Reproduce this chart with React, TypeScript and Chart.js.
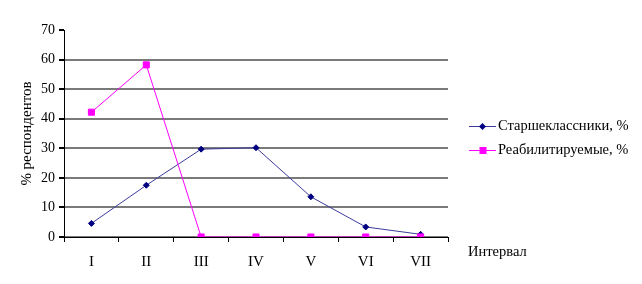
import React, { useEffect, useRef } from 'react';
import { Chart, registerables } from 'chart.js';
Chart.register(...registerables);

const categories = ['I', 'II', 'III', 'IV', 'V', 'VI', 'VII'];
const seniors = [4.6, 17.5, 29.7, 30.2, 13.6, 3.4, 0.9];
const rehab = [42.2, 58.2, 0, 0, 0, 0, 0];
const seriesLabels = ['Старшеклассники, %', 'Реабилитируемые, %'];
const yTitle = '% респондентов';
const xTitle = 'Интервал';
const yMin = 0;
const yMax = 70;
const yStep = 10;

const FONT = "'Liberation Serif', 'Times New Roman', serif";

const legendPlugin = {
  id: 'customLegend',
  afterDraw(chart: any) {
    const { ctx, chartArea } = chart;
    const x0 = chartArea.right + 21;
    const rowY = [chartArea.top + 96, chartArea.top + 120];
    ctx.save();
    chart.data.datasets.forEach((ds: any, i: number) => {
      const y = rowY[i];
      ctx.strokeStyle = ds.borderColor;
      ctx.lineWidth = 1;
      ctx.beginPath();
      ctx.moveTo(x0, y + 0.5);
      ctx.lineTo(x0 + 27, y + 0.5);
      ctx.stroke();
      ctx.fillStyle = ds.pointBackgroundColor;
      const mx = x0 + 13.5;
      if (ds.pointStyle === 'rectRot') {
        ctx.beginPath();
        ctx.moveTo(mx, y - 3);
        ctx.lineTo(mx + 3.5, y + 0.5);
        ctx.lineTo(mx, y + 4);
        ctx.lineTo(mx - 3.5, y + 0.5);
        ctx.closePath();
        ctx.fill();
      } else {
        ctx.fillRect(mx - 3, y - 3, 7, 7);
      }
      ctx.fillStyle = '#000';
      ctx.font = `14.5px ${FONT}`;
      ctx.textBaseline = 'middle';
      ctx.textAlign = 'left';
      ctx.fillText(ds.label, x0 + 29, y);
    });
    ctx.font = `14.5px ${FONT}`;
    ctx.textBaseline = 'middle';
    ctx.fillText(xTitle, chartArea.right + 20, chartArea.bottom + 15);
    ctx.restore();
  },
};

export default function App() {
  const ref = useRef<HTMLCanvasElement | null>(null);
  useEffect(() => {
    if (!ref.current) return;
    const chart = new Chart(ref.current, {
      type: 'line',
      data: {
        labels: categories,
        datasets: [
          {
            label: seriesLabels[0],
            data: seniors,
            borderColor: '#3c3c9a',
            borderWidth: 1,
            pointStyle: 'rectRot',
            pointRadius: 3,
            pointBorderWidth: 1,
            pointBackgroundColor: '#000080',
            pointBorderColor: '#000080',
            tension: 0,
            order: 1,
          } as any,
          {
            label: seriesLabels[1],
            data: rehab,
            borderColor: '#FF00FF',
            borderWidth: 1,
            pointStyle: 'rect',
            pointRadius: 4.3,
            pointBorderWidth: 1,
            pointBackgroundColor: '#FF00FF',
            pointBorderColor: '#FF00FF',
            tension: 0,
            order: 0,
          } as any,
        ],
      },
      options: {
        animation: false,
        responsive: false,
        devicePixelRatio: 1,
        layout: { padding: { left: 0, top: 30, right: 194, bottom: 0 } },
        plugins: { legend: { display: false }, tooltip: { enabled: false } },
        scales: {
          x: {
            type: 'category',
            offset: true,
            afterFit: (s: any) => { s.height = 47; },
            grid: {
              offset: true,
              drawOnChartArea: false,
              drawTicks: true,
              tickLength: 5,
              tickColor: '#000',
            },
            border: { color: '#000', width: 1 },
            ticks: { color: '#000', font: { family: FONT, size: 15 }, padding: 11 },
          },
          y: {
            min: yMin,
            max: yMax,
            afterFit: (s: any) => { s.width = 64; },
            ticks: { stepSize: yStep, color: '#000', font: { family: FONT, size: 14 }, padding: 4 },
            grid: {
              color: (c: any) => (c.tick && c.tick.value === yMax ? 'rgba(0,0,0,0)' : '#7a7a7a'),
              lineWidth: 2,
              tickLength: 5,
              tickColor: '#000',
            },
            border: { color: '#000', width: 1 },
            title: {
              display: true,
              text: yTitle,
              color: '#000',
              font: { family: FONT, size: 15 },
              padding: { top: 18 },
            },
          },
        },
      },
      plugins: [legendPlugin],
    });
    return () => chart.destroy();
  }, []);
  return (
    <div style={{ position: 'absolute', left: 0, top: 0, width: 642, height: 284, background: '#fff' }}>
      <canvas ref={ref} width={642} height={284} />
    </div>
  );
}
